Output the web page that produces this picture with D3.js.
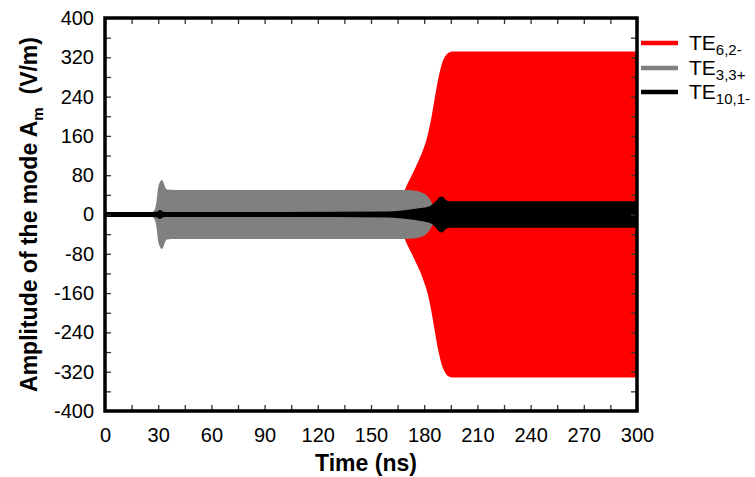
<!DOCTYPE html>
<html>
<head>
<meta charset="utf-8">
<script src="https://cdn.jsdelivr.net/npm/d3@7"></script>
<style>
  body { margin: 0; background: #fff; }
  svg { display: block; font-family: Arial, "Liberation Sans", sans-serif; }
</style>
</head>
<body>
<svg id="chart" width="755" height="477"></svg>
<script>
// ---- data ----
const xTicks = [0, 30, 60, 90, 120, 150, 180, 210, 240, 270, 300];
const yTicks = [-400, -320, -240, -160, -80, 0, 80, 160, 240, 320, 400];

// TE6,2- envelope amplitude (V/m) vs time (ns)
const redTime = [150, 158, 162, 165, 168, 170, 173, 176, 179, 182, 184, 186, 188, 190, 192, 194, 196, 200, 300];
const redAmp  = [0, 2, 6, 15, 40, 58, 80, 103, 128, 162, 196, 238, 278, 307, 323, 330, 332, 332, 332];

// TE3,3+ envelope
const grayTime = [22, 24, 26, 28, 29, 30, 31, 32, 33, 34, 35, 40, 100, 170, 174, 178, 181, 183, 185, 186.5, 188, 190, 195, 200];
const grayAmp  = [0, 0.5, 3, 10, 25, 55, 66, 70, 65, 55, 51, 50, 50, 50, 49, 46, 40, 32, 20, 10, 4, 2, 0.5, 0];

// TE10,1- envelope
const blackTime = [0, 25, 29, 31, 33, 35, 100, 160, 170, 178, 183, 186, 188, 189, 190.5, 192, 194, 300];
const blackAmp  = [5, 5, 5.5, 9, 5.5, 5, 5, 6, 9, 13, 17, 25, 33, 36, 36, 30, 27, 27];

const seriesNames = ["TE", "TE", "TE"];
const seriesSubs = ["6,2-", "3,3+", "10,1-"];
const seriesColors = ["#ff0000", "#808080", "#000000"];

// ---- drawing ----
const svg = d3.select("#chart");
const X0 = 105, X1 = 637, Y0 = 18, Y1 = 411;
const x = d3.scaleLinear().domain([0, 300]).range([X0, X1]);
const y = d3.scaleLinear().domain([-400, 400]).range([Y1, Y0]);

const area = d3.area()
  .x(d => x(d[0]))
  .y0(d => y(-d[1]))
  .y1(d => y(d[1]))
  .curve(d3.curveMonotoneX);

const zip = (t, a) => t.map((v, i) => [v, a[i]]);
const series = [zip(redTime, redAmp), zip(grayTime, grayAmp), zip(blackTime, blackAmp)];

svg.append("defs").append("clipPath").attr("id", "clip")
  .append("rect").attr("x", X0).attr("y", Y0).attr("width", X1 - X0).attr("height", Y1 - Y0);

const g = svg.append("g").attr("clip-path", "url(#clip)");
series.forEach((s, i) => {
  g.append("path").datum(s).attr("d", area).attr("fill", seriesColors[i]);
});

// axes with inward ticks
const tickStyle = sel => {
  sel.select(".domain").remove();
  sel.selectAll(".tick line").attr("stroke", "#333").attr("stroke-width", 1.3);
  sel.selectAll(".tick text").attr("fill", "#000").style("font-size", "20px");
};
const xMinor = d3.range(0, 301, 15);
const yMinor = d3.range(-400, 401, 40);

svg.append("g").attr("transform", `translate(0,${Y1})`)
  .call(d3.axisBottom(x).tickValues(xMinor).tickSize(-6).tickPadding(17)
    .tickFormat(d => xTicks.includes(d) ? d : ""))
  .call(tickStyle);
svg.append("g").attr("transform", `translate(0,${Y0})`)
  .call(d3.axisTop(x).tickValues(xMinor).tickSize(-6).tickFormat(""))
  .call(tickStyle);
svg.append("g").attr("transform", `translate(${X0},0)`)
  .call(d3.axisLeft(y).tickValues(yMinor).tickSize(-6).tickPadding(11)
    .tickFormat(d => yTicks.includes(d) ? d : ""))
  .call(tickStyle);
svg.append("g").attr("transform", `translate(${X1},0)`)
  .call(d3.axisRight(y).tickValues(yMinor).tickSize(-6).tickFormat(""))
  .call(tickStyle);

// frame
svg.append("rect").attr("x", X0).attr("y", Y0).attr("width", X1 - X0).attr("height", Y1 - Y0)
  .attr("fill", "none").attr("stroke", "#000").attr("stroke-width", 3.5);

// axis titles
svg.append("text").attr("x", 366).attr("y", 471)
  .attr("text-anchor", "middle").style("font-size", "23px").style("font-weight", "bold")
  .text("Time (ns)");

const yt = svg.append("text")
  .attr("transform", `translate(37,${(Y0 + Y1) / 2}) rotate(-90)`)
  .attr("text-anchor", "middle").style("font-size", "23px").style("font-weight", "bold");
yt.append("tspan").text("Amplitude of the mode A");
yt.append("tspan").attr("dy", 6).style("font-size", "15px").text("m");
yt.append("tspan").attr("dy", -6).text("\u00a0 (V/m)");

// legend
const legY = [43, 68, 92];
seriesNames.forEach((n, i) => {
  svg.append("line").attr("x1", 641).attr("x2", 678).attr("y1", legY[i]).attr("y2", legY[i])
    .attr("stroke", seriesColors[i]).attr("stroke-width", 4.5);
  const t = svg.append("text").attr("x", 689).attr("y", legY[i] + 7).style("font-size", "21px");
  t.append("tspan").text(n);
  t.append("tspan").attr("dy", 5).style("font-size", "15px").text(seriesSubs[i]);
});
</script>
</body>
</html>
